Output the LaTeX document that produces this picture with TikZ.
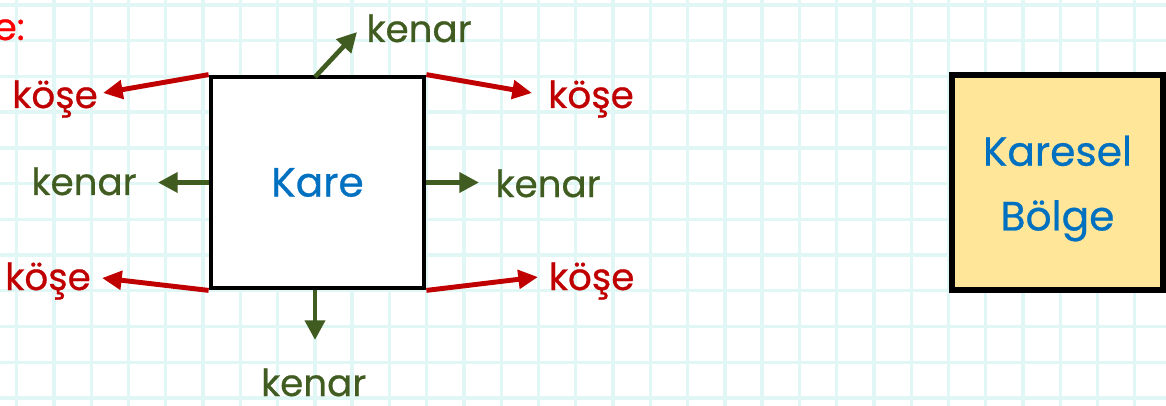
\documentclass[tikz,border=0pt]{standalone}
\usepackage{fontspec}
\setmainfont{Poppins}
\usepackage{tikz}
\usetikzlibrary{calc,arrows.meta}
\definecolor{kirmizi}{RGB}{192,0,0}
\definecolor{parlakkirmizi}{RGB}{255,0,0}
\definecolor{yesil}{RGB}{64,92,32}
\definecolor{mavi}{RGB}{0,112,192}
\definecolor{sari}{RGB}{255,230,153}
\definecolor{izgara}{RGB}{224,247,245}
\newcommand{\yazitipi}{\fontsize{26.5}{30}\selectfont\addfontfeature{FakeBold=0.6}}
\tikzset{
  koseok/.style={line width=3.5pt, draw=kirmizi, -{Triangle[length=14pt,width=13pt]}},
  kenarok/.style={line width=3.3pt, draw=yesil, -{Triangle[length=14pt,width=14pt]}},
  koseyazi/.style={text=kirmizi, font=\yazitipi, anchor=base, inner sep=0pt},
  kenaryazi/.style={text=yesil, font=\yazitipi, anchor=base, inner sep=0pt},
  kutu/.style={draw=black, inner sep=0pt, text=mavi, align=center}
}
\begin{document}
\begin{tikzpicture}
	\useasboundingbox (0,0) rectangle (29.15,10.125);
\fill [white] (0,0) rectangle (29.15,10.125);
\begin{scope}
\clip (0,0) rectangle (29.15,10.125);
\draw [izgara, line width=2.4pt, xstep=0.93175, ystep=0.89325, shift={(0.4175,0.175)}] (-0.5,-0.5) grid (29,10.2);
\end{scope}
% baslik
\draw (0.625,9.125) node [anchor=base east, inner sep=0pt, text=parlakkirmizi, font=\yazitipi] (baslik) {e:};
% kare
\draw (7.9375,5.5625) node [kutu, fill=white, line width=3.4pt, minimum width=5.325cm, minimum height=5.275cm, font=\fontsize{29}{34}\selectfont\addfontfeature{FakeBold=0.6}] (kare) {Kare};
% koseler
\draw (1.375,7.425) node [koseyazi] (kose1) {köşe};
\draw (14.775,7.425) node [koseyazi] (kose2) {köşe};
\draw (1.2,2.875) node [koseyazi] (kose3) {köşe};
\draw (14.79,2.875) node [koseyazi] (kose4) {köşe};
\coordinate (u1) at (2.575,7.8);
\coordinate (u2) at (13.3,7.8);
\coordinate (u3) at (2.55,3.175);
\coordinate (u4) at (13.45,3.2);
\draw [koseok] (kare.north west)-- (u1);
\draw [koseok] (kare.north east)-- (u2);
\draw [koseok] (kare.south west)-- (u3);
\draw [koseok] (kare.south east)-- (u4);
% kenarlar
\draw (2.1,5.25) node [kenaryazi] (kenar1) {kenar};
\draw (13.7,5.2) node [kenaryazi] (kenar2) {kenar};
\draw (10.475,9.075) node [kenaryazi] (kenar3) {kenar};
\draw (7.84,0.225) node [kenaryazi] (kenar4) {kenar};
\coordinate (v1) at (3.95,5.5625);
\coordinate (v2) at (11.975,5.5625);
\coordinate (v3) at (8.925,9.325);
\coordinate (v4) at (7.875,1.625);
\coordinate (a3) at (7.875,8.2);
\draw [kenarok] (kare.west)-- (v1);
\draw [kenarok] (kare.east)-- (v2);
\draw [kenarok] (a3)-- (v3);
\draw [kenarok] (a3 |- kare.south)-- (v4);
% karesel bolge
\draw (26.4375,5.5625) node [kutu, fill=sari, line width=4pt, minimum width=5.275cm, minimum height=5.375cm] (bolge) {};
\draw ($(bolge.center)+(0,-0.15)$) node [text=mavi, align=center, font=\fontsize{29}{46}\selectfont\addfontfeature{FakeBold=0.6}] (bolgeyazi) {Karesel\\Bölge};
	\end{tikzpicture}
\end{document}
